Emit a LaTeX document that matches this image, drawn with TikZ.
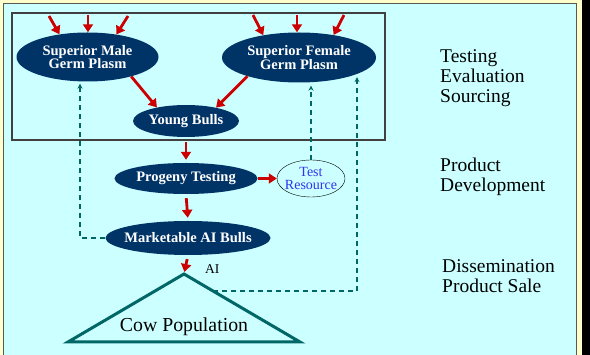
\documentclass[tikz,border=0pt]{standalone}
\usepackage{fontspec}
\setmainfont{Liberation Serif}
\usetikzlibrary{shapes.geometric,arrows.meta,calc}
\definecolor{panelcyan}{HTML}{CCFFFF}
\definecolor{frameyellow}{HTML}{FFFFCC}
\definecolor{germblue}{HTML}{003366}
\definecolor{flowred}{HTML}{CC0000}
\definecolor{linkteal}{HTML}{006666}
\definecolor{resblue}{HTML}{3333EE}
\tikzset
{
    germnode/.style  = {ellipse, fill=germblue, text=white, align=center, inner sep=0pt, font=\fontsize{14.5pt}{13.5pt}\selectfont\bfseries},
    resnode/.style   = {ellipse, draw=black, fill=panelcyan, text=resblue, align=center, inner sep=0pt, font=\fontsize{14pt}{13pt}\selectfont},
    stagelabel/.style = {anchor=north west, align=left, inner sep=0pt, font=\fontsize{19.5pt}{20pt}\selectfont},
    flow/.style      = {draw=flowred, line width=2.8pt, -{Triangle[length=8pt,width=10pt]}},
    feedback/.style  = {draw=linkteal, line width=1.3pt, dash pattern=on 5pt off 4pt, -{Stealth[length=5pt,width=5pt]}}
}

\begin{document}
\begin{tikzpicture}[x=1pt,y=-1pt]
\useasboundingbox (0,0) rectangle (590,355);
% frame
\fill[black] (0,0) rectangle (590,355);
\fill[frameyellow] (0,0) rectangle (582,355);
\draw[gray!70!black, line width=1pt, fill=panelcyan] (3,4) rectangle (576,358);
\draw[black!75, line width=1.5pt] (12,13) rectangle (385,140);

% nodes
\node[germnode, minimum width=142pt, minimum height=49pt] (male) at (87.5,57) {Superior Male\\Germ Plasm};
\node[germnode, minimum width=154pt, minimum height=50pt] (female) at (299,57.5) {Superior Female\\Germ Plasm};
\node[germnode, minimum width=106pt, minimum height=32pt] (young) at (186,121) {Young Bulls};
\node[germnode, minimum width=143pt, minimum height=31pt] (progeny) at (186,178.5) {Progeny Testing};
\node[germnode, minimum width=165pt, minimum height=34pt, inner xsep=-8pt] (market) at (188,238) {Marketable AI Bulls};
\node[resnode, minimum width=68pt, minimum height=37pt, inner xsep=-5pt] (test) at (311,178.5) {Test\\Resource};

% cow population
\coordinate (apex) at (184,274);
\coordinate (baseL) at (68,342);
\coordinate (baseR) at (300,342);
\coordinate (side) at ($(apex)!0.25!(baseR)$);
\draw[linkteal, line width=3pt, line join=miter] (apex) -- (baseL) -- (baseR) -- cycle;
\node[font=\fontsize{19.8pt}{20pt}\selectfont] (cows) at (184,327) {Cow Population};
\node[anchor=base west, inner sep=0pt, font=\fontsize{13.5pt}{14pt}\selectfont] (ai) at (205,273.3) {AI};

% stage labels
\node[stagelabel] (testing) at (440,49) {Testing\\Evaluation\\Sourcing};
\node[stagelabel] (develop) at (440,158) {Product\\Development};
\node[stagelabel] (sale) at (442,259) {Dissemination\\Product Sale};

% inputs
\coordinate (m1) at (49,16);
\coordinate (m2) at (88,15);
\coordinate (m3) at (128,16);
\coordinate (f1) at (253,15);
\coordinate (f2) at (297,15);
\coordinate (f3) at (344,15);
\draw[flow] (m1) -- (male.141);
\draw[flow] (m2) -- (m2 |- male.north);
\draw[flow] (m3) -- (male.38);
\draw[flow] (f1) -- (female.148);
\draw[flow] (f2) -- (f2 |- female.north);
\draw[flow] (f3) -- (female.33);

% main flow
\draw[flow] (male.-24) -- (young.155);
\draw[flow] (female.200) -- (young.24);
\draw[flow, shorten <=5pt, shorten >=3pt] (young.south) -- (progeny.north);
\draw[flow, shorten <=4pt, shorten >=3pt] (progeny.south) -- (market.north);
\draw[flow] (progeny.east) -- (test.west);
\draw[flow, shorten <=4pt, shorten >=2pt] (market.south) -- (apex);

% feedback
\draw[feedback, shorten >=2pt] (market.west) -| ([xshift=-7.5pt]male.south);
\draw[feedback, shorten >=3pt] (test.north) -- (test.north |- female.south);
\draw[feedback, shorten >=3pt] (side) -| (female.-16);
\end{tikzpicture}
\end{document}
